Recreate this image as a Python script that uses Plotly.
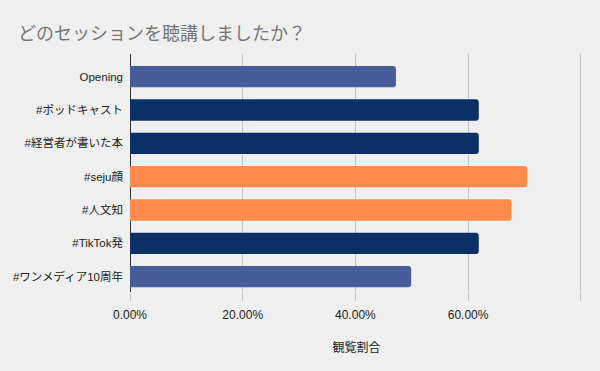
import plotly.graph_objects as go

categories = ["Opening", "#ポッドキャスト", "#経営者が書いた本", "#seju顔", "#人文知", "#TikTok発", "#ワンメディア10周年"]
share = [0.472, 0.619, 0.619, 0.705, 0.677, 0.619, 0.499]
x_ticks = [0, 0.2, 0.4, 0.6, 0.8]
x_labels = ["0.00%", "20.00%", "40.00%", "60.00%", ""]

bar_colors = ["#485c99", "#0a3066", "#0a3066", "#ff8c4c", "#ff8c4c", "#0a3066", "#485c99"]

font_fam = "Liberation Sans, Arial, Noto Sans CJK JP, sans-serif"

fig = go.Figure(go.Bar(
    x=share, y=categories, orientation="h",
    marker=dict(color=bar_colors, line=dict(width=0)),
    width=0.64,
))

fig.update_layout(
    width=600, height=371,
    paper_bgcolor="#efefef", plot_bgcolor="#efefef",
    margin=dict(l=130, r=17, t=54, b=79),
    barcornerradius=3,
    showlegend=False,
    font=dict(family=font_fam, color="#222222", size=12),
    title=dict(text="どのセッションを聴講しましたか？", x=0.03, xanchor="left", y=0.908, yanchor="middle",
               font=dict(family="Noto Sans CJK JP, sans-serif", size=18, color="#757575")),
)
fig.update_xaxes(
    range=[0, 0.804], tickvals=x_ticks, ticktext=x_labels,
    showgrid=True, gridcolor="#c4c4c4", gridwidth=1,
    zeroline=True, zerolinecolor="#333333", zerolinewidth=1,
    ticks="outside", ticklen=8, tickcolor="#c4c4c4", ticklabelstandoff=4,
    tickfont=dict(size=12, color="#222222"),
    title=dict(text="観覧割合", font=dict(size=12, color="#222222", family="Noto Sans CJK JP, sans-serif"), standoff=22),
    showline=False,
)
fig.update_yaxes(
    type="category", categoryorder="array", categoryarray=categories,
    range=[6.46, -0.68],
    showgrid=False, zeroline=False, ticks="", ticklabelstandoff=6,
    tickfont=dict(size=11.5, color="#222222"),
)

fig.write_html("out.html", config={"displayModeBar": False},
               post_script="document.body.style.margin='0';document.body.style.background='#efefef';")
